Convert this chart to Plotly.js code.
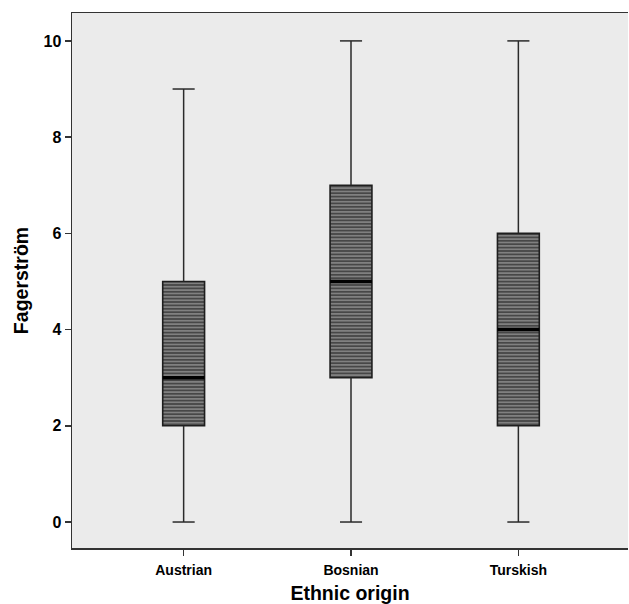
<!DOCTYPE html>
<html>
<head>
<meta charset="utf-8">
<script src="https://cdn.plot.ly/plotly-3.0.1.min.js"></script>
<style>html,body{margin:0;padding:0;background:#fff;}#chart{width:629px;height:604px;}</style>
</head>
<body>
<div id="chart"></div>
<script>
const categories = ["Austrian", "Bosnian", "Turskish"];
const minVals = [0, 0, 0];
const q1Vals = [2, 3, 2];
const medianVals = [3, 5, 4];
const q3Vals = [5, 7, 6];
const maxVals = [9, 10, 10];
const yTicks = [0, 2, 4, 6, 8, 10];

const pos = categories.map((c, i) => i);
const boxW = 0.25, capHalf = 0.066, medHalf = 0.125;

const wx = [], wy = [], mx = [], my = [];
pos.forEach((p, i) => {
  wx.push(p, p, null, p, p, null, p - capHalf, p + capHalf, null, p - capHalf, p + capHalf, null);
  wy.push(minVals[i], q1Vals[i], null, q3Vals[i], maxVals[i], null, minVals[i], minVals[i], null, maxVals[i], maxVals[i], null);
  mx.push(p - medHalf, p + medHalf, null);
  my.push(medianVals[i], medianVals[i], null);
});

const traces = [
  { type: "scatter", mode: "lines", x: wx, y: wy, line: { color: "#2a2a2a", width: 1.5 }, hoverinfo: "skip", showlegend: false },
  { type: "bar", x: pos, base: q1Vals, y: q3Vals.map((v, i) => v - q1Vals[i]), width: boxW,
    marker: { color: "#4d4d4d", line: { color: "#1e1e1e", width: 1.6 },
      pattern: { shape: "-", bgcolor: "#474747", fgcolor: "#8e8e8e", size: 3.4, solidity: 0.4, fillmode: "replace" } },
    showlegend: false, hoverinfo: "skip" },
  { type: "scatter", mode: "lines", x: mx, y: my, line: { color: "#000", width: 3.5 }, hoverinfo: "skip", showlegend: false }
];

const layout = {
  width: 629, height: 604,
  margin: { l: 72, r: 1, t: 13, b: 56 },
  paper_bgcolor: "#ffffff", plot_bgcolor: "#ebebeb",
  showlegend: false,
  font: { family: "Liberation Sans, Arial, sans-serif", color: "#000" },
  xaxis: {
    range: [-0.667, 2.655], tickvals: pos, ticktext: categories,
    ticks: "outside", ticklen: 6, tickcolor: "#333", tickwidth: 1.5,
    showline: true, linecolor: "#333", linewidth: 1.5, mirror: true,
    showgrid: false, zeroline: false, ticklabelstandoff: 3,
    tickfont: { family: "Liberation Sans, Arial, sans-serif", size: 14, weight: "bold" },
    title: { text: "<b>Ethnic origin</b>", font: { size: 19.5 }, standoff: 9 }
  },
  yaxis: {
    range: [-0.54, 10.58], tickvals: yTicks,
    ticks: "outside", ticklen: 6, tickcolor: "#333", tickwidth: 1.5,
    showline: true, linecolor: "#333", linewidth: 1.5,
    showgrid: false, zeroline: false,
    tickfont: { family: "Liberation Sans, Arial, sans-serif", size: 16, weight: "bold" },
    title: { text: "<b>Fagerström</b>", font: { size: 19.5 }, standoff: 9 }
  }
};

Plotly.newPlot("chart", traces, layout, { staticPlot: true, displayModeBar: false });
</script>
</body>
</html>
